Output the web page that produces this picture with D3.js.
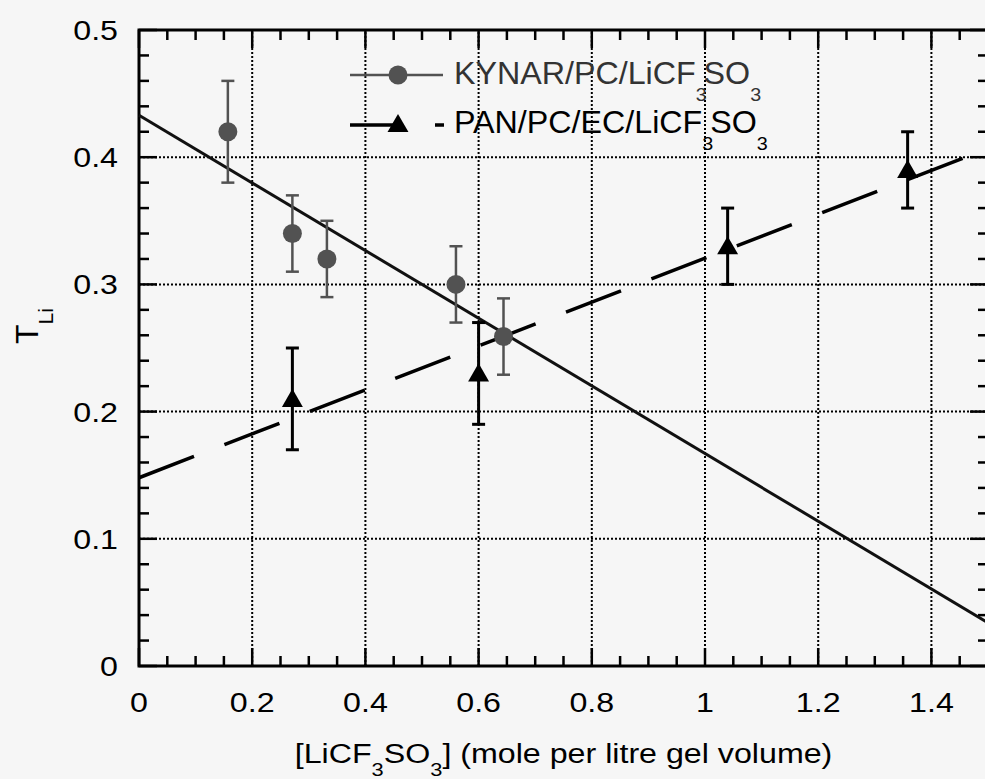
<!DOCTYPE html>
<html>
<head>
<meta charset="utf-8">
<script src="https://cdn.jsdelivr.net/npm/d3@7"></script>
<style>
  html, body { margin: 0; padding: 0; background: #f6f6f6; }
  svg { display: block; font-family: "Liberation Sans", Arial, Helvetica, sans-serif; }
</style>
</head>
<body>
<svg id="chart" width="985" height="779"></svg>
<script>
// ---- data ----
// KYNAR/PC/LiCF3SO3 (grey circles)
const kynarX   = [0.157, 0.271, 0.332, 0.560, 0.644];
const kynarY   = [0.420, 0.340, 0.320, 0.300, 0.259];
const kynarErr = [0.040, 0.030, 0.030, 0.030, 0.030];
// PAN/PC/EC/LiCF3SO3 (black triangles)
const panX   = [0.271, 0.600, 1.040, 1.358];
const panY   = [0.210, 0.230, 0.330, 0.390];
const panErr = [0.040, 0.040, 0.030, 0.030];
// fitted lines (end points)
const kynarFitX = [0, 1.5];
const kynarFitY = [0.433, 0.034];
const panFitX = [0, 1.46];
const panFitY = [0.148, 0.400];

const xTicks = [0, 0.2, 0.4, 0.6, 0.8, 1.0, 1.2, 1.4];
const xTickLabels = ['0', '0.2', '0.4', '0.6', '0.8', '1', '1.2', '1.4'];
const yTicks = [0, 0.1, 0.2, 0.3, 0.4, 0.5];
const yTickLabels = ['0', '0.1', '0.2', '0.3', '0.4', '0.5'];
const xGrid = [0.2, 0.4, 0.6, 0.8, 1.0, 1.2, 1.4];
const yGrid = [0.1, 0.2, 0.3, 0.4];

const GREY = '#525252';
const STRETCH = 1.15;   // the scanned lettering is wider than Arial
const svg = d3.select('#chart');
const x = d3.scaleLinear().domain([0, 1.5]).range([139, 988]);
const y = d3.scaleLinear().domain([0, 0.5]).range([666, 30]);
const [x0, x1] = x.range(), [y0, y1] = y.range();

// dotted grid
const grid = svg.append('g').attr('stroke', '#000').attr('stroke-width', 2).attr('stroke-dasharray', '2,2');
grid.selectAll('.gx').data(xGrid).enter().append('line')
  .attr('x1', d => x(d)).attr('x2', d => x(d)).attr('y1', y0).attr('y2', y1);
grid.selectAll('.gy').data(yGrid).enter().append('line')
  .attr('y1', d => y(d)).attr('y2', d => y(d)).attr('x1', x0).attr('x2', x1);

// ticks, inward on all four sides
const xMinor = d3.range(0.05, 1.5, 0.05).filter(v => Math.abs(v / 0.2 - Math.round(v / 0.2)) > 1e-6);
const yMinor = d3.range(0.02, 0.5, 0.02).filter(v => Math.abs(v / 0.1 - Math.round(v / 0.1)) > 1e-6);
const ticks = svg.append('g').attr('stroke', '#000').attr('stroke-width', 2.5);
function tickSetX(vals, len) {
  vals.forEach(v => {
    ticks.append('line').attr('x1', x(v)).attr('x2', x(v)).attr('y1', y0).attr('y2', y0 - len);
    ticks.append('line').attr('x1', x(v)).attr('x2', x(v)).attr('y1', y1).attr('y2', y1 + len);
  });
}
function tickSetY(vals, len) {
  vals.forEach(v => {
    ticks.append('line').attr('y1', y(v)).attr('y2', y(v)).attr('x1', x0).attr('x2', x0 + len);
    ticks.append('line').attr('y1', y(v)).attr('y2', y(v)).attr('x1', x1).attr('x2', x1 - len);
  });
}
tickSetX(xTicks, 18); tickSetX(xMinor, 10);
tickSetY(yTicks, 18); tickSetY(yMinor, 10);

// frame
svg.append('rect').attr('x', x0).attr('y', y1).attr('width', x1 - x0).attr('height', y0 - y1)
  .attr('fill', 'none').attr('stroke', '#000').attr('stroke-width', 3);

// tick labels
svg.append('g').selectAll('g').data(xTicks).enter().append('g')
  .attr('transform', d => `translate(${x(d)},712) scale(${STRETCH},1)`)
  .append('text').attr('text-anchor', 'middle').attr('font-size', 28)
  .text((d, i) => xTickLabels[i]);
svg.append('g').selectAll('g').data(yTicks).enter().append('g')
  .attr('transform', d => `translate(118,${y(d)}) scale(${STRETCH},1)`)
  .append('text').attr('dy', '0.36em').attr('text-anchor', 'end').attr('font-size', 28)
  .text((d, i) => yTickLabels[i]);

// axis titles
const xt = svg.append('g').attr('transform', `translate(${(x0 + x1) / 2},763) scale(${STRETCH},1)`)
  .append('text').attr('text-anchor', 'middle').attr('font-size', 28);
xt.append('tspan').text('[LiCF');
xt.append('tspan').attr('font-size', 19).attr('dy', 13).text('3');
xt.append('tspan').attr('dy', -13).text('SO');
xt.append('tspan').attr('font-size', 19).attr('dy', 13).text('3');
xt.append('tspan').attr('dy', -13).text('] (mole per litre gel volume)');

const yt = svg.append('text').attr('transform', 'translate(38,344) rotate(-90)').attr('font-size', 32);
yt.append('tspan').text('T');
yt.append('tspan').attr('font-size', 21).attr('dy', 15).text('Li');

// fitted lines
const line = d3.line().x(d => x(d[0])).y(d => y(d[1]));
svg.append('path').datum(d3.zip(kynarFitX, kynarFitY)).attr('d', line)
  .attr('fill', 'none').attr('stroke', '#111').attr('stroke-width', 3);
svg.append('path').datum(d3.zip(panFitX, panFitY)).attr('d', line)
  .attr('fill', 'none').attr('stroke', '#000').attr('stroke-width', 3.5).attr('stroke-dasharray', '59,32.6');

// error bars
function errBars(xs, ys, es, color, w) {
  const g = svg.append('g').attr('stroke', color).attr('stroke-width', w);
  xs.forEach((xv, i) => {
    const lo = y(ys[i] - es[i]), hi = y(ys[i] + es[i]), cx = x(xv);
    g.append('line').attr('x1', cx).attr('x2', cx).attr('y1', lo).attr('y2', hi);
    g.append('line').attr('x1', cx - 6.5).attr('x2', cx + 6.5).attr('y1', lo).attr('y2', lo);
    g.append('line').attr('x1', cx - 6.5).attr('x2', cx + 6.5).attr('y1', hi).attr('y2', hi);
  });
}
errBars(kynarX, kynarY, kynarErr, GREY, 2.5);
errBars(panX, panY, panErr, '#000', 3);

// markers
svg.append('g').selectAll('circle').data(d3.zip(kynarX, kynarY)).enter().append('circle')
  .attr('cx', d => x(d[0])).attr('cy', d => y(d[1])).attr('r', 9.5).attr('fill', GREY);
const tri = d3.symbol().type(d3.symbolTriangle).size(190);
svg.append('g').selectAll('path').data(d3.zip(panX, panY)).enter().append('path')
  .attr('d', tri).attr('transform', d => `translate(${x(d[0])},${y(d[1]) + 2})`).attr('fill', '#000');

// legend
const lg = svg.append('g');
lg.append('line').attr('x1', 350).attr('x2', 443).attr('y1', 75).attr('y2', 75).attr('stroke', GREY).attr('stroke-width', 2.5);
lg.append('circle').attr('cx', 398).attr('cy', 75).attr('r', 9.5).attr('fill', GREY);
lg.append('line').attr('x1', 350).attr('x2', 444).attr('y1', 125).attr('y2', 125)
  .attr('stroke', '#000').attr('stroke-width', 3.5).attr('stroke-dasharray', '48,37,9,100');
lg.append('path').attr('d', tri).attr('transform', 'translate(398,126)').attr('fill', '#000');

function legendText(yb, label, color) {
  const t = lg.append('g').attr('transform', `translate(454,${yb}) scale(1.04,1)`)
    .append('text').attr('font-size', 31).attr('fill', color);
  t.append('tspan').text(label);
  t.append('tspan').attr('font-size', 19).attr('dy', 17).text('3');
  t.append('tspan').attr('dy', -17).attr('dx', -3).text('SO');
  t.append('tspan').attr('font-size', 19).attr('dy', 17).text('3');
}
legendText(84, 'KYNAR/PC/LiCF', '#333');
legendText(133, 'PAN/PC/EC/LiCF', '#000');
</script>
</body>
</html>
